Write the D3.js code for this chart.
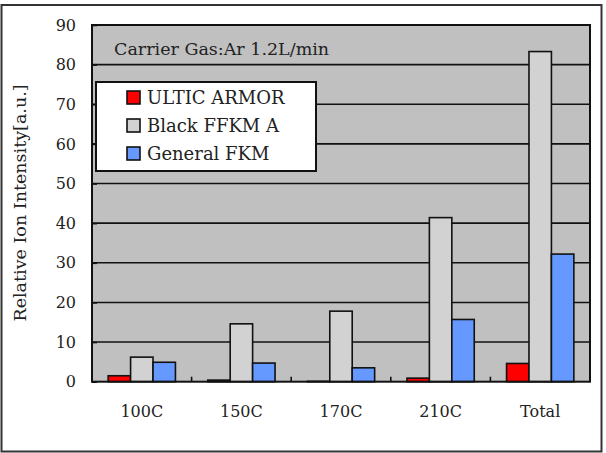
<!DOCTYPE html>
<html>
<head>
<meta charset="utf-8">
<script src="https://cdn.jsdelivr.net/npm/d3@7"></script>
<style>
  body { margin: 0; background: #fff; }
  svg text { font-family: "DejaVu Serif", serif; fill: #222; }
</style>
</head>
<body>
<svg width="606" height="453"></svg>
<script>
// data
var categories = ["100C", "150C", "170C", "210C", "Total"];
var seriesNames = ["ULTIC ARMOR", "Black FFKM A", "General FKM"];
var ulticArmor = [1.5, 0.4, 0.1, 0.9, 4.6];
var blackFfkmA = [6.2, 14.6, 17.8, 41.4, 83.3];
var generalFkm = [4.9, 4.7, 3.5, 15.7, 32.2];
var yTicks = [0, 10, 20, 30, 40, 50, 60, 70, 80, 90];
var note = "Carrier Gas:Ar 1.2L/min";

var colors = ["#ff0000", "#d2d2d2", "#6699ff"];
var allSeries = [ulticArmor, blackFfkmA, generalFkm];

var svg = d3.select("svg"),
  margin = { top: 25, left: 92 },
  width = 498,
  height = 356.7;

// outer frame
svg.append("rect")
  .attr("x", 1.5).attr("y", 5)
  .attr("width", 600).attr("height", 446.5)
  .attr("fill", "#fff")
  .attr("stroke", "#333")
  .attr("stroke-width", 2);

var g = svg.append("g")
  .attr("transform", "translate(" + margin.left + "," + margin.top + ")");

var x = d3.scaleBand().domain(categories).range([0, width]);
var xs = d3.scaleBand().domain(seriesNames).range([0, x.bandwidth()])
  .paddingInner(0).paddingOuter(0.72);
var y = d3.scaleLinear().domain([0, 90]).range([height, 0]);

// plot background
g.append("rect")
  .attr("width", width)
  .attr("height", height)
  .attr("fill", "#c0c0c0");

// gridlines
g.selectAll(".grid")
  .data(yTicks.filter(function(d) { return d > 0 && d < 90; }))
  .enter().append("line")
  .attr("class", "grid")
  .attr("x1", 0).attr("x2", width)
  .attr("y1", function(d) { return y(d); })
  .attr("y2", function(d) { return y(d); })
  .attr("stroke", "#111")
  .attr("stroke-width", 1.6);

// y axis, ticks pointing inward
var yAxis = d3.axisLeft(y)
  .tickValues(yTicks)
  .tickSize(-5)
  .tickPadding(16);

g.append("g")
  .attr("class", "axis axisy")
  .call(yAxis)
  .call(function(a) {
    a.select(".domain").remove();
    a.selectAll("line").attr("stroke", "#111").attr("stroke-width", 1.6);
    a.selectAll("text").attr("font-size", 16).attr("font-family", "DejaVu Serif").attr("fill", "#222");
  });

// bars
var barGroups = g.selectAll(".cat")
  .data(categories)
  .enter().append("g")
  .attr("class", "cat")
  .attr("transform", function(d) { return "translate(" + x(d) + ",0)"; });

barGroups.selectAll("rect")
  .data(function(d, i) {
    return allSeries.map(function(s, j) {
      return { name: seriesNames[j], value: s[i], color: colors[j] };
    });
  })
  .enter().append("rect")
  .attr("x", function(d) { return xs(d.name); })
  .attr("width", xs.bandwidth())
  .attr("y", function(d) { return y(d.value); })
  .attr("height", function(d) { return height - y(d.value); })
  .attr("fill", function(d) { return d.color; })
  .attr("stroke", "#111")
  .attr("stroke-width", 1.6);

// x axis labels
var xAxis = d3.axisBottom(x).tickSize(0).tickPadding(23.5);
g.append("g")
  .attr("class", "axis axisx")
  .attr("transform", "translate(0," + height + ")")
  .call(xAxis)
  .call(function(a) {
    a.select(".domain").remove();
    a.selectAll("text").attr("font-size", 16).attr("font-family", "DejaVu Serif").attr("fill", "#222");
  });

// category separator ticks
g.selectAll(".sep")
  .data(categories.slice(1))
  .enter().append("line")
  .attr("class", "sep")
  .attr("x1", function(d) { return x(d); })
  .attr("x2", function(d) { return x(d); })
  .attr("y1", height)
  .attr("y2", height - 5)
  .attr("stroke", "#111")
  .attr("stroke-width", 1.6);

// plot border
g.append("rect")
  .attr("width", width)
  .attr("height", height)
  .attr("fill", "none")
  .attr("stroke", "#111")
  .attr("stroke-width", 2);

// note
svg.append("text")
  .attr("x", 114).attr("y", 55)
  .attr("font-size", 17.5)
  .text(note);

// legend
var legend = svg.append("g").attr("transform", "translate(96,82)");
legend.append("rect")
  .attr("width", 220).attr("height", 89)
  .attr("fill", "#fff")
  .attr("stroke", "#111")
  .attr("stroke-width", 2);

var items = legend.selectAll(".item")
  .data(seriesNames)
  .enter().append("g")
  .attr("class", "item")
  .attr("transform", function(d, i) { return "translate(0," + (22 + i * 28) + ")"; });

items.append("rect")
  .attr("x", 31).attr("y", -13)
  .attr("width", 13).attr("height", 13)
  .attr("fill", function(d, i) { return colors[i]; })
  .attr("stroke", "#111")
  .attr("stroke-width", 1.6);

items.append("text")
  .attr("x", 51).attr("y", 0)
  .attr("font-size", 18)
  .text(function(d) { return d; });

// y label
svg.append("text")
  .attr("transform", "translate(26,203) rotate(-90)")
  .attr("text-anchor", "middle")
  .attr("font-size", 17.5)
  .text("Relative Ion Intensity[a.u.]");
</script>
</body>
</html>
